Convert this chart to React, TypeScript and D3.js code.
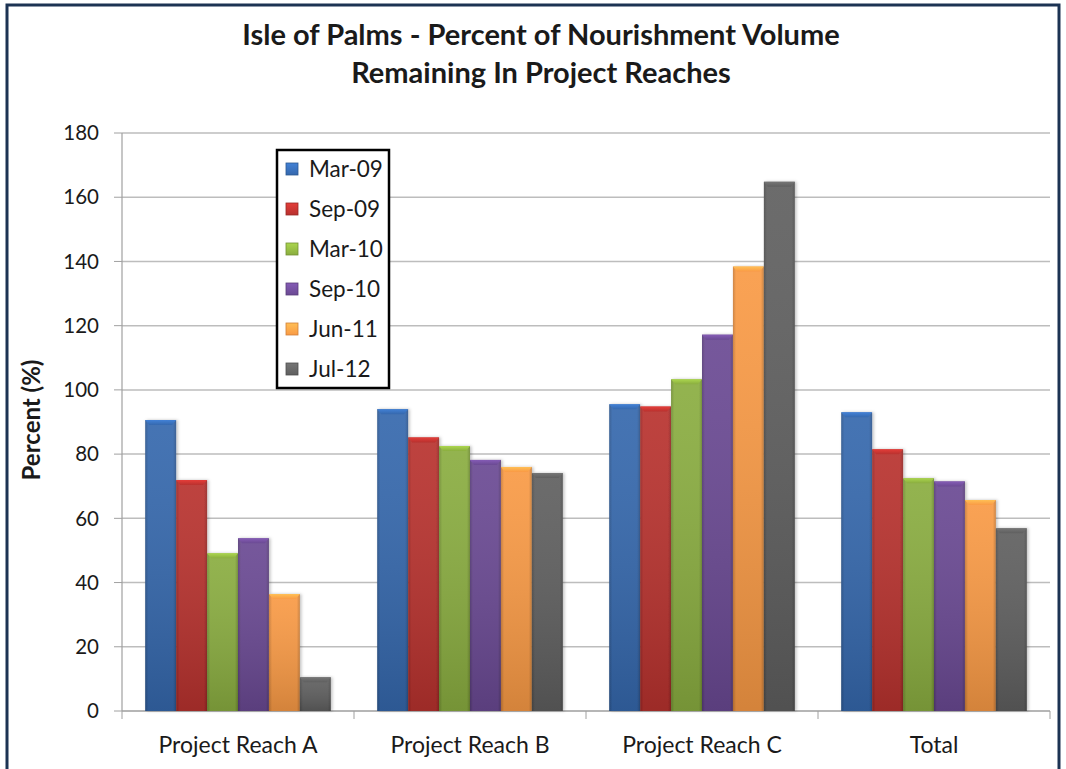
import React from "react";
import * as d3 from "d3";

const categories = ["Project Reach A", "Project Reach B", "Project Reach C", "Total"];
const seriesNames = ["Mar-09", "Sep-09", "Mar-10", "Sep-10", "Jun-11", "Jul-12"];
const mar09 = [90.6, 94.0, 95.5, 93.0];
const sep09 = [71.9, 85.2, 94.8, 81.5];
const mar10 = [49.1, 82.5, 103.3, 72.5];
const sep10 = [53.8, 78.2, 117.2, 71.5];
const jun11 = [36.4, 76.0, 138.4, 65.7];
const jul12 = [10.5, 74.1, 164.8, 56.9];
const seriesValues = [mar09, sep09, mar10, sep10, jun11, jul12];
const yTicks = [0, 20, 40, 60, 80, 100, 120, 140, 160, 180];
const colors = ["#3568ad", "#b8312e", "#8aad3f", "#6b4a93", "#f99a45", "#5f5f5f"];

const W = 1066, H = 769;
const left = 122, right = 1050, top = 133, bottom = 711;
const FONT = "Lato, 'Open Sans', sans-serif";

export default function App() {
  const x0 = d3.scaleBand().domain(categories).range([left, right]).paddingInner(0).paddingOuter(0);
  const bw = x0.bandwidth();
  // gap width 150%: 6 bars + 1.5 bar = 7.5 units
  const unit = bw / 7.5;
  const y = d3.scaleLinear().domain([0, 180]).range([bottom, top]);

  return (
    <svg width={W} height={H} style={{ position: "absolute", left: 0, top: 0 }} fontFamily={FONT}>
      <defs>
        {colors.map((c, i) => {
          const dk = d3.color(c)!.darker(0.6).formatHex();
          const lt = d3.color(c)!.brighter(0.6).formatHex();
          return (
            <React.Fragment key={i}>
              <linearGradient id={`g${i}`} x1="0" x2="1" y1="0" y2="0">
                <stop offset="0" stopColor={dk} />
                <stop offset="0.1" stopColor={c} />
                <stop offset="0.9" stopColor={c} />
                <stop offset="1" stopColor={dk} />
              </linearGradient>
              <linearGradient id={`t${i}`} x1="0" x2="0" y1="0" y2="1">
                <stop offset="0" stopColor={lt} />
                <stop offset="1" stopColor={c} />
              </linearGradient>
              <linearGradient id={`v${i}`} x1="0" x2="0" y1="0" y2="1">
                <stop offset="0" stopColor="#ffffff" stopOpacity={0.08} />
                <stop offset="1" stopColor="#000000" stopOpacity={0.15} />
              </linearGradient>
            </React.Fragment>
          );
        })}
        <filter id="sh" x="-20%" y="-5%" width="140%" height="110%">
          <feDropShadow dx="1.5" dy="0" stdDeviation="1.5" floodColor="#000" floodOpacity="0.25" />
        </filter>
      </defs>
      <rect x={0} y={0} width={W} height={H} fill="#ffffff" />
      <rect x={7} y={5} width={1052} height={770} fill="#ffffff" stroke="#1c3353" strokeWidth={3} />

      <text x={541} y={45} textAnchor="middle" fontSize={29} fontWeight="bold" fill="#1a1a1a">
        Isle of Palms - Percent of Nourishment Volume
      </text>
      <text x={541} y={83} textAnchor="middle" fontSize={29} fontWeight="bold" fill="#1a1a1a">
        Remaining In Project Reaches
      </text>

      {yTicks.map((t) => (
        <g key={t}>
          <line x1={left} x2={right} y1={y(t)} y2={y(t)} stroke="#bdbdbd" strokeWidth={1.5} />
          <line x1={114} x2={left} y1={y(t)} y2={y(t)} stroke="#a0a0a0" strokeWidth={1} />
          <text x={99} y={y(t)} dy="0.35em" textAnchor="end" fontSize={20.5} fill="#1a1a1a">
            {t}
          </text>
        </g>
      ))}
      <line x1={left} x2={left} y1={top} y2={bottom} stroke="#a0a0a0" strokeWidth={1.2} />
      <line x1={left} x2={right} y1={bottom} y2={bottom} stroke="#a0a0a0" strokeWidth={1.2} />
      {[...categories.map((c) => x0(c)!), right].map((xv, i) => (
        <line key={i} x1={xv} x2={xv} y1={bottom} y2={bottom + 8} stroke="#a0a0a0" strokeWidth={1} />
      ))}

      {categories.map((cat, ci) => (
        <g key={cat}>
          {seriesNames.map((s, si) => {
            const v = seriesValues[si][ci];
            const bx = x0(cat)! + unit * 0.75 + unit * si;
            const by = y(v);
            const h = bottom - by;
            const w = unit;
            const bev = 4;
            return (
              <g key={s}>
                <rect x={bx} y={by} width={w} height={h} fill={`url(#g${si})`} filter="url(#sh)" />
                <rect x={bx} y={by} width={w} height={h} fill={`url(#v${si})`} />
                <polygon
                  points={`${bx},${by} ${bx + w},${by} ${bx + w - bev},${by + bev + 1} ${bx + bev},${by + bev + 1}`}
                  fill={`url(#t${si})`}
                />
              </g>
            );
          })}
          <text x={x0(cat)! + bw / 2} y={753} textAnchor="middle" fontSize={23} fill="#1a1a1a">
            {cat}
          </text>
        </g>
      ))}

      <text transform={`translate(40,${(top + bottom) / 2 - 2}) rotate(-90)`} textAnchor="middle" fontSize={24} fontWeight="bold" fill="#1a1a1a">
        Percent (%)
      </text>

      <rect x={277} y={150} width={112} height={238} fill="#ffffff" stroke="#000" strokeWidth={2.5} />
      {seriesNames.map((s, i) => {
        const cy = 169 + i * 40;
        return (
          <g key={s}>
            <rect x={286} y={cy - 6} width={12} height={12} fill={`url(#t${i})`} stroke={d3.color(colors[i])!.darker(0.5).formatHex()} strokeWidth={0.8} />
            <text x={309} y={cy} dy="0.35em" fontSize={22.5} fill="#1a1a1a">
              {s}
            </text>
          </g>
        );
      })}
    </svg>
  );
}
